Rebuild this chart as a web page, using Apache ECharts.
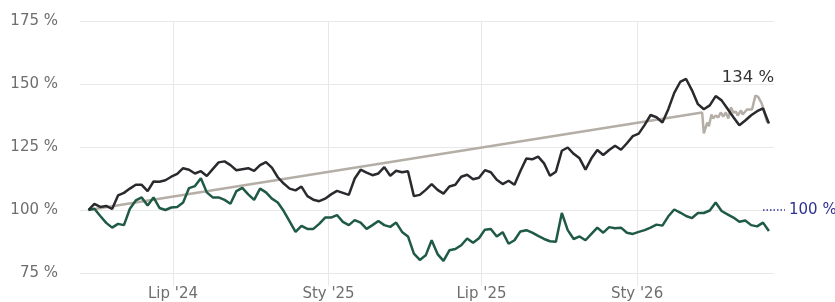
<!DOCTYPE html>
<html>
<head>
<meta charset="utf-8">
<script src="https://cdn.jsdelivr.net/npm/echarts@6/dist/echarts.min.js"></script>
<style>
  html, body { margin: 0; padding: 0; background: #fff; }
  #chart { width: 835px; height: 302px; }
</style>
</head>
<body>
<div id="chart"></div>
<script>
// weekly series start, all three begin at 100 %
const startDate = [2024, 2, 23]
const tickDates = ['2024-07-01', '2025-01-01', '2025-07-01', '2026-01-01']
const tickLabels = ["Lip '24", "Sty '25", "Lip '25", "Sty '26"]

const blackValues = [
  100, 102.4, 101.2, 101.6, 100.4, 105.8, 106.8, 108.5, 110, 110,
  107.5, 111.3, 111.2, 111.8, 113.2, 114.3, 116.6, 116, 114.5, 115.4,
  113.5, 116.2, 118.9, 119.3, 117.8, 115.8, 116.2, 116.6, 115.5, 117.8,
  119, 116.8, 113, 110.5, 108.5, 107.8, 109.3, 105.5, 104.1, 103.5,
  104.5, 106.2, 107.6, 106.8, 106, 112.5, 116, 114.8, 113.8, 114.5,
  117, 113.6, 115.6, 115, 115.4, 105.5, 106, 108, 110.3, 108,
  106.5, 109.3, 110, 113.2, 114, 112.2, 112.8, 115.8, 115, 112,
  110.3, 111.6, 110, 115.5, 120.4, 120.1, 121.2, 118.5, 113.6, 115.2,
  123.5, 124.8, 122.3, 120.5, 116, 120.5, 123.8, 121.8, 123.8, 125.5,
  123.9, 126.5, 129.3, 130.3, 133.8, 137.7, 136.8, 134.7, 140, 146.5,
  150.8, 152, 147.5, 142, 140, 141.5, 145.2, 143.5, 140.2, 136.8,
  133.6, 135.5, 137.6, 139.2, 140.3, 134.3
]
const greenValues = [
  100, 100.5, 97.6, 94.9, 93, 94.5, 94, 100.5, 103.8, 105,
  101.8, 105, 100.8, 100, 101, 101.2, 103, 108.7, 109.5, 112.6,
  107, 105, 105, 104, 102.5, 107.5, 108.8, 106.2, 104, 108.5,
  107, 104.5, 103, 99.6, 95.5, 91.3, 93.7, 92.5, 92.5, 94.5,
  97, 97, 98, 95.3, 94, 96, 95, 92.5, 94, 95.6,
  94, 93.3, 95, 91.3, 89.5, 82.7, 80.2, 82, 88, 82.5,
  79.8, 84, 84.5, 86, 88.7, 87, 88.8, 92.2, 92.5, 89.5,
  91.2, 86.6, 88, 91.5, 92, 91, 89.7, 88.5, 87.6, 87.4,
  98.8, 92, 88.5, 89.5, 88, 90.5, 93, 91, 93.2, 92.8,
  93, 91, 90.5, 91.3, 92, 93, 94.2, 93.8, 97.5, 100.2,
  99, 97.6, 96.8, 98.8, 98.8, 99.8, 103, 99.6, 98.3, 97,
  95.3, 95.8, 94, 93.5, 95, 91.7
]
const grayDates = [
  '2024-03-23', '2026-03-19', '2026-03-21', '2026-03-25', '2026-03-27', '2026-03-30',
  '2026-04-01', '2026-04-04', '2026-04-07', '2026-04-10', '2026-04-13', '2026-04-16',
  '2026-04-19', '2026-04-22', '2026-04-25', '2026-04-28', '2026-04-30', '2026-05-04',
  '2026-05-06', '2026-05-11', '2026-05-17', '2026-05-21', '2026-05-24', '2026-05-28',
  '2026-05-30', '2026-06-04'
]
const grayValues = [
  100, 138.7, 130.4, 134.7, 133.2, 137.9,
  136.3, 137.5, 136.7, 138.7, 137.1, 138.7,
  136.3, 140.7, 138.7, 139, 137.5, 139.5,
  137.9, 139.9, 139.9, 145.4, 145, 142.6,
  140.7, 134.7
]
const refValue = 100
const refLineDates = ['2026-05-30', '2026-06-25']

const DAY = 86400000
const ts = s => { const [y, m, d] = s.split('-').map(Number); return Date.UTC(y, m - 1, d) }
const t0 = Date.UTC(...startDate)
const weekly = vals => vals.map((v, i) => [t0 + i * 7 * DAY, v])
const blackData = weekly(blackValues)
const greenData = weekly(greenValues)
const grayData = grayDates.map((d, i) => [ts(d), grayValues[i]])
const tickTs = tickDates.map(ts)
const last = blackData[blackData.length - 1]

const GRID = '#e8e8e8'
const TEXT = '#6e6e6e'
const NAVY = '#2e3192'
const FONT = 'DejaVu Sans'

const chart = echarts.init(document.getElementById('chart'), null, { renderer: 'canvas' })
chart.setOption({
  animation: false,
  backgroundColor: '#fff',
  textStyle: { fontFamily: FONT },
  grid: { left: 80, right: 61, top: 21, bottom: 28 },
  xAxis: {
    // dates as timestamps on a value axis so ticks can sit on Jan/Jul only
    type: 'value',
    min: ts('2024-03-13'),
    max: ts('2026-06-12'),
    axisLine: { show: false },
    axisTick: { show: true, length: 13, lineStyle: { color: GRID }, customValues: tickTs },
    axisLabel: {
      customValues: tickTs,
      color: TEXT, fontSize: 15, fontFamily: FONT, margin: 14,
      formatter: v => {
        let best = 0
        tickTs.forEach((t, i) => { if (Math.abs(t - v) < Math.abs(tickTs[best] - v)) best = i })
        return tickLabels[best]
      },
    },
    splitLine: { show: true, lineStyle: { color: GRID, width: 1 } },
  },
  yAxis: {
    type: 'value',
    min: 75, max: 175, interval: 25,
    axisLine: { show: false },
    axisTick: { show: false },
    axisLabel: { color: TEXT, fontSize: 15, fontFamily: FONT, margin: 22, formatter: v => v + ' %' },
    splitLine: { lineStyle: { color: GRID, width: 1 } },
  },
  series: [
    {
      name: 'gray', type: 'line', data: grayData, showSymbol: false, symbol: 'none',
      lineStyle: { color: '#b5aea6', width: 2.5 }, z: 2,
    },
    {
      name: 'green', type: 'line', data: greenData, showSymbol: false, symbol: 'none',
      lineStyle: { color: '#1f5a45', width: 2.5 }, z: 3,
    },
    {
      name: 'black', type: 'line', data: blackData, showSymbol: false, symbol: 'none',
      lineStyle: { color: '#2a2a2e', width: 2.5 }, z: 4,
      markPoint: {
        symbol: 'circle', symbolSize: 0, silent: true,
        label: {
          show: true, position: 'inside', offset: [-21, -46],
          formatter: Math.round(last[1]) + ' %', color: '#333', fontSize: 16.5, fontFamily: FONT,
        },
        data: [{ coord: last }],
      },
    },
  ],
})

// 100 % reference marker sits partly outside the grid, so place it from the axes
const yRef = chart.convertToPixel({ yAxisIndex: 0 }, refValue)
const xA = chart.convertToPixel({ xAxisIndex: 0 }, ts(refLineDates[0]))
const xB = chart.convertToPixel({ xAxisIndex: 0 }, ts(refLineDates[1]))
chart.setOption({
  graphic: [
    {
      type: 'line', silent: true,
      shape: { x1: xA, y1: yRef, x2: xB, y2: yRef },
      style: { stroke: NAVY, lineWidth: 1.5, lineDash: [1.5, 2] },
    },
    {
      type: 'text', silent: true, x: xB + 4, y: yRef,
      style: { text: refValue + ' %', fill: NAVY, font: '15px "DejaVu Sans"', verticalAlign: 'middle' },
    },
  ],
})
</script>
</body>
</html>
